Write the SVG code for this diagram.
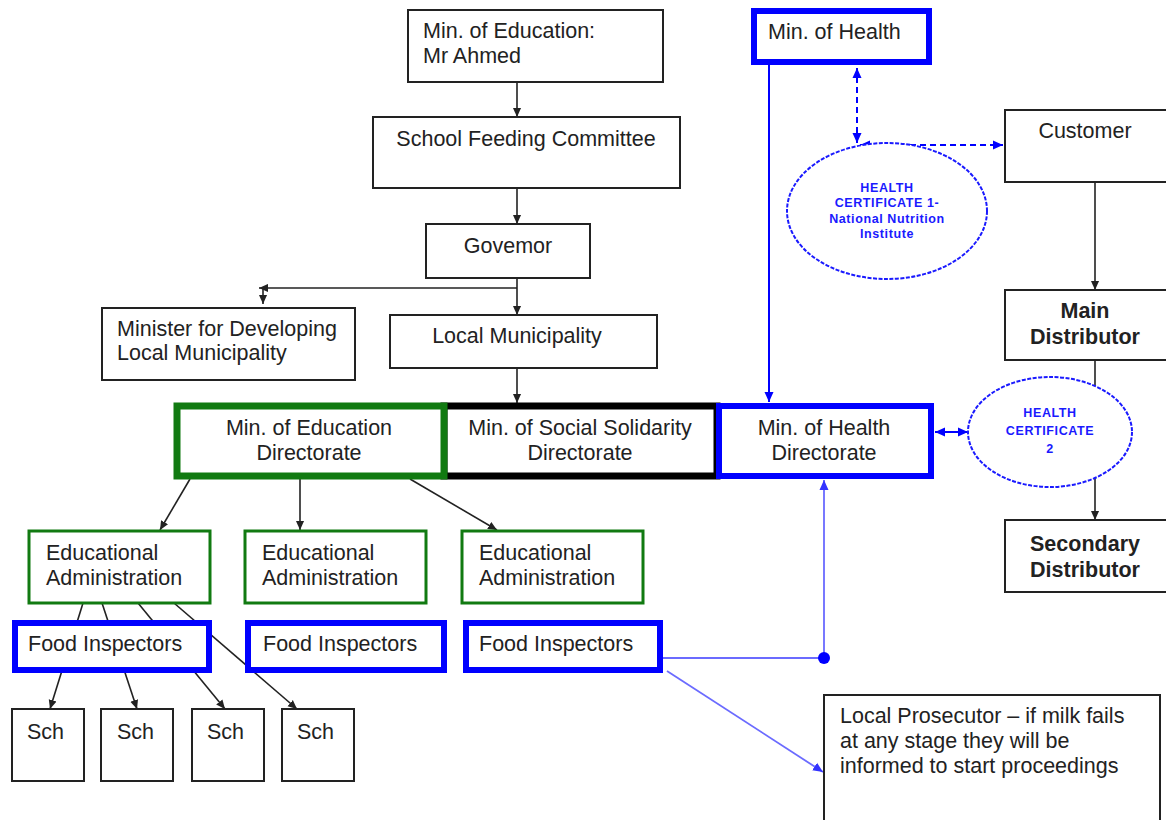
<svg xmlns="http://www.w3.org/2000/svg" width="1166" height="820" viewBox="0 0 1166 820">
<defs>
<style>
.t{font-family:"Liberation Sans",Arial,sans-serif;font-size:21.5px;fill:#222}
.b{font-weight:bold}
.c{text-anchor:middle}
.hc{font-family:"Liberation Sans",Arial,sans-serif;font-size:12.5px;font-weight:bold;fill:#1a1aff;text-anchor:middle;letter-spacing:0.6px}
.box{fill:#fff;stroke:#222;stroke-width:2}
.gbox{fill:#fff;stroke:#117a11;stroke-width:3}
.gthick{fill:#fff;stroke:#117a11;stroke-width:7}
.kthick{fill:#fff;stroke:#000;stroke-width:7}
.bthick{fill:#fff;stroke:#0000ff;stroke-width:6}
.ell{fill:#fff;stroke:#1a1aff;stroke-width:2;stroke-dasharray:4 1.5}
.ln{fill:none;stroke:#222;stroke-width:1.6}
.bl{fill:none;stroke:#0000ff;stroke-width:2}
.lb{fill:none;stroke:#6b6bff;stroke-width:1.8}
.bd{fill:none;stroke:#0000ff;stroke-width:2;stroke-dasharray:6 4}
</style>
<marker id="ak" viewBox="0 0 10 10" refX="10" refY="5" markerWidth="9" markerHeight="9" orient="auto-start-reverse" markerUnits="userSpaceOnUse"><path d="M0,0.5 L10,5 L0,9.5 z" fill="#222"/></marker>
<marker id="ab" viewBox="0 0 10 10" refX="10" refY="5" markerWidth="10" markerHeight="10" orient="auto-start-reverse" markerUnits="userSpaceOnUse"><path d="M0,0.5 L10,5 L0,9.5 z" fill="#0000ff"/></marker>
<marker id="alb" viewBox="0 0 10 10" refX="10" refY="5" markerWidth="10" markerHeight="10" orient="auto-start-reverse" markerUnits="userSpaceOnUse"><path d="M0,0.5 L10,5 L0,9.5 z" fill="#3333ff"/></marker>
</defs>
<rect width="1166" height="820" fill="#fff"/>

<g id="connectors">
<line class="ln" x1="517" y1="82" x2="517" y2="117" marker-end="url(#ak)"/>
<line class="ln" x1="517" y1="188" x2="517" y2="224" marker-end="url(#ak)"/>
<line class="ln" x1="517" y1="278" x2="517" y2="315" marker-end="url(#ak)"/>
<polyline class="ln" points="517,288 259,288" marker-end="url(#ak)"/>
<line class="ln" x1="263" y1="289" x2="263" y2="304" marker-end="url(#ak)"/>
<line class="ln" x1="517" y1="368" x2="517" y2="403" marker-end="url(#ak)"/>
<line class="ln" x1="190" y1="479" x2="160" y2="530" marker-end="url(#ak)"/>
<line class="ln" x1="300" y1="479" x2="300" y2="530" marker-end="url(#ak)"/>
<line class="ln" x1="410" y1="479" x2="497" y2="530" marker-end="url(#ak)"/>
<line class="ln" x1="83" y1="603" x2="50" y2="709" marker-end="url(#ak)"/>
<line class="ln" x1="102" y1="603" x2="137" y2="709" marker-end="url(#ak)"/>
<line class="ln" x1="138" y1="603" x2="225" y2="709" marker-end="url(#ak)"/>
<line class="ln" x1="174" y1="603" x2="297" y2="709" marker-end="url(#ak)"/>
<line class="bl" x1="769" y1="64" x2="769" y2="402" marker-end="url(#ab)"/>
<line class="bd" x1="857" y1="143" x2="857" y2="68" marker-start="url(#ab)" marker-end="url(#ab)"/>
<line class="bd" x1="860" y1="145" x2="1003" y2="145" marker-start="url(#ab)" marker-end="url(#ab)"/>
<line class="ln" x1="1095" y1="174" x2="1095" y2="290" marker-end="url(#ak)"/>
<line class="ln" x1="1095" y1="360" x2="1095" y2="520" marker-end="url(#ak)"/>
<line class="bl" x1="935" y1="432" x2="968" y2="432" stroke-width="2.5" marker-start="url(#ab)" marker-end="url(#ab)"/>
<polyline class="lb" points="663,658 824,658 824,480" marker-end="url(#alb)"/>
<circle cx="824" cy="658" r="6" fill="#0000ff"/>
<line class="lb" x1="667" y1="671" x2="823" y2="772" marker-end="url(#alb)"/>
</g>

<g id="n-min-edu"><rect class="box" x="408" y="10" width="255" height="72"/><text class="t" x="423" y="38">Min. of Education:</text><text class="t" x="423" y="63">Mr Ahmed</text></g>
<g id="n-sfc"><rect class="box" x="373" y="117" width="307" height="71"/><text class="t c" x="526" y="146">School Feeding Committee</text></g>
<g id="n-gov"><rect class="box" x="426" y="224" width="164" height="54"/><text class="t c" x="508" y="253">Govemor</text></g>
<g id="n-minister"><rect class="box" x="102" y="308" width="253" height="72"/><text class="t" x="117" y="336">Minister for Developing</text><text class="t" x="117" y="360">Local Municipality</text></g>
<g id="n-localmun"><rect class="box" x="390" y="315" width="267" height="53"/><text class="t c" x="517" y="343">Local Municipality</text></g>

<g id="n-social"><rect class="kthick" x="444" y="406" width="273" height="70"/><text class="t c" x="580" y="435">Min. of Social Solidarity</text><text class="t c" x="580" y="460">Directorate</text></g>
<g id="n-edudir"><rect class="gthick" x="177" y="406" width="267" height="70"/><text class="t c" x="309" y="435">Min. of Education</text><text class="t c" x="309" y="460">Directorate</text></g>
<g id="n-healthdir"><rect class="bthick" x="719" y="406" width="212" height="70"/><text class="t c" x="824" y="435">Min. of Health</text><text class="t c" x="824" y="460">Directorate</text></g>

<g id="n-minhealth"><rect class="bthick" x="754" y="11" width="175" height="51"/><text class="t" x="768" y="39">Min. of Health</text></g>
<g id="n-hc1"><ellipse class="ell" cx="887" cy="211" rx="100" ry="68"/><text class="hc" x="887" y="192">HEALTH</text><text class="hc" x="887" y="207">CERTIFICATE 1-</text><text class="hc" x="887" y="223">National Nutrition</text><text class="hc" x="887" y="238">Institute</text></g>
<g id="n-customer"><rect class="box" x="1005" y="110" width="165" height="72"/><text class="t c" x="1085" y="138">Customer</text></g>
<g id="n-maindist"><rect class="box" x="1005" y="290" width="165" height="70"/><text class="t b c" x="1085" y="318">Main</text><text class="t b c" x="1085" y="344">Distributor</text></g>
<g id="n-hc2"><ellipse class="ell" cx="1050" cy="432" rx="82" ry="55"/><text class="hc" x="1050" y="417">HEALTH</text><text class="hc" x="1050" y="435">CERTIFICATE</text><text class="hc" x="1050" y="453">2</text></g>
<g id="n-secdist"><rect class="box" x="1005" y="520" width="165" height="72"/><text class="t b c" x="1085" y="551">Secondary</text><text class="t b c" x="1085" y="577">Distributor</text></g>

<g id="n-ea1"><rect class="gbox" x="29" y="531" width="181" height="72"/><text class="t" x="46" y="560">Educational</text><text class="t" x="46" y="585">Administration</text></g>
<g id="n-ea2"><rect class="gbox" x="245" y="531" width="181" height="72"/><text class="t" x="262" y="560">Educational</text><text class="t" x="262" y="585">Administration</text></g>
<g id="n-ea3"><rect class="gbox" x="462" y="531" width="181" height="72"/><text class="t" x="479" y="560">Educational</text><text class="t" x="479" y="585">Administration</text></g>

<g id="n-fi1"><rect class="bthick" x="15" y="623" width="194" height="47"/><text class="t" x="28" y="651">Food Inspectors</text></g>
<g id="n-fi2"><rect class="bthick" x="248" y="623" width="196" height="47"/><text class="t" x="263" y="651">Food Inspectors</text></g>
<g id="n-fi3"><rect class="bthick" x="466" y="623" width="194" height="47"/><text class="t" x="479" y="651">Food Inspectors</text></g>

<g id="n-sch1"><rect class="box" x="12" y="709" width="72" height="72"/><text class="t" x="27" y="739">Sch</text></g>
<g id="n-sch2"><rect class="box" x="101" y="709" width="72" height="72"/><text class="t" x="117" y="739">Sch</text></g>
<g id="n-sch3"><rect class="box" x="192" y="709" width="72" height="72"/><text class="t" x="207" y="739">Sch</text></g>
<g id="n-sch4"><rect class="box" x="282" y="709" width="72" height="72"/><text class="t" x="297" y="739">Sch</text></g>

<g id="n-prosecutor"><rect class="box" x="824" y="695" width="336" height="135"/><text class="t" x="840" y="723">Local Prosecutor – if milk fails</text><text class="t" x="840" y="748">at any stage they will be</text><text class="t" x="840" y="773">informed to start proceedings</text></g>
</svg>
